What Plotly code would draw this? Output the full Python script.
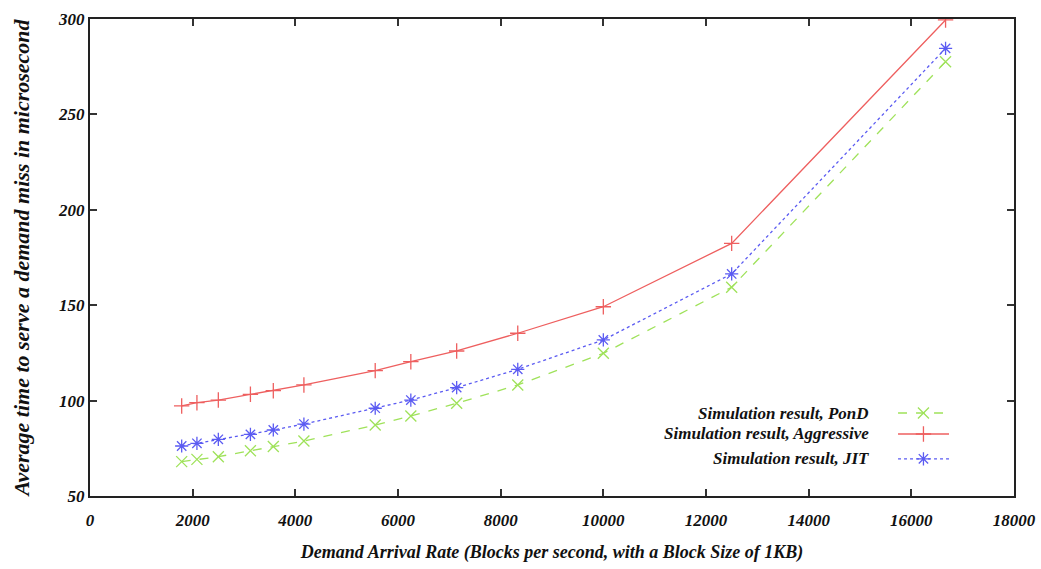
import plotly.graph_objects as go

# Demand arrival rate (blocks per second)
arrival_rate = [1786, 2083, 2500, 3125, 3571, 4167, 5556, 6250, 7143, 8333, 10000, 12500, 16667]

# Average time to serve a demand miss (microseconds)
pond = [68.0, 69.2, 70.6, 73.7, 75.9, 78.8, 87.2, 91.9, 98.6, 108.2, 124.8, 159.4, 277.6]
aggressive = [97.2, 98.9, 100.3, 103.3, 105.2, 108.2, 115.7, 120.4, 126.0, 135.3, 149.2, 182.4, 299.5]
jit = [76.2, 77.6, 79.7, 82.3, 84.6, 87.7, 96.0, 100.3, 106.8, 116.4, 131.8, 166.4, 284.6]

x_ticks = [0, 2000, 4000, 6000, 8000, 10000, 12000, 14000, 16000, 18000]
y_ticks = [50, 100, 150, 200, 250, 300]

series = [
    ("Simulation result, PonD", pond, "#9fe25a", "dash", "x-thin-open"),
    ("Simulation result, Aggressive", aggressive, "#ee5f5f", "solid", "cross-thin-open"),
    ("Simulation result, JIT", jit, "#5b5bf2", "dot", "asterisk-open"),
]

FONT = "Liberation Serif"
INK = "#111111"
fig = go.Figure()

for name, values, color, dash, symbol in series:
    fig.add_trace(go.Scatter(
        x=arrival_rate, y=values, name=name, mode="lines+markers",
        line=dict(color=color, width=1.3, dash=dash),
        marker=dict(symbol=symbol, size=11, color=color, line=dict(color=color, width=1.3)),
        showlegend=False,
    ))

# Key in the lower right, drawn on a unit overlay axis: right-aligned labels
# followed by a line sample with the series marker in its middle
key_rows = [0.174, 0.130, 0.078]
key_x0, key_mid, key_x1 = 0.8745, 0.902, 0.9297
for (name, values, color, dash, symbol), ky in zip(series, key_rows):
    fig.add_annotation(
        xref="x2", yref="y2", x=0.845, y=ky, xanchor="right", yanchor="middle",
        text=name, showarrow=False,
        font=dict(family=FONT, size=17, color=INK, style="italic", weight="bold"),
    )
    fig.add_trace(go.Scatter(
        x=[key_x0, key_mid, key_x1], y=[ky, ky, ky], xaxis="x2", yaxis="y2",
        mode="lines", line=dict(color=color, width=1.3, dash=dash),
        showlegend=False, hoverinfo="skip",
    ))
    fig.add_trace(go.Scatter(
        x=[key_mid], y=[ky], xaxis="x2", yaxis="y2", mode="markers",
        marker=dict(symbol=symbol, size=11, color=color, line=dict(color=color, width=1.3)),
        showlegend=False, hoverinfo="skip",
    ))

tick_font = dict(family=FONT, size=17, color=INK, style="italic", weight="bold")
axis_common = dict(
    showgrid=False, zeroline=False, showline=True, linecolor="#222222", linewidth=2,
    mirror="ticks", ticks="inside", ticklen=7, tickwidth=1.5, tickcolor="#333333",
    tickfont=tick_font, automargin=False,
)

fig.update_layout(
    width=1041, height=569,
    margin=dict(l=90, r=27, t=19, b=73),
    paper_bgcolor="white", plot_bgcolor="white",
    xaxis=dict(
        range=[0, 18000], tickvals=x_ticks, ticktext=[str(v) for v in x_ticks],
        ticklabelstandoff=8,
        title=dict(text="Demand Arrival Rate (Blocks per second, with a Block Size of 1KB)",
                   font=dict(family=FONT, size=18, color=INK, style="italic", weight="bold"),
                   standoff=16),
        **axis_common,
    ),
    yaxis=dict(
        range=[50, 300], tickvals=y_ticks, ticktext=[str(v) for v in y_ticks],
        title=dict(text="Average time to serve a demand miss in microsecond",
                   font=dict(family=FONT, size=22, color=INK, style="italic", weight="bold"),
                   standoff=22),
        **axis_common,
    ),
    xaxis2=dict(range=[0, 1], visible=False, overlaying="x", anchor="y2"),
    yaxis2=dict(range=[0, 1], visible=False, overlaying="y", anchor="x2"),
)

fig.write_html("out.html")
